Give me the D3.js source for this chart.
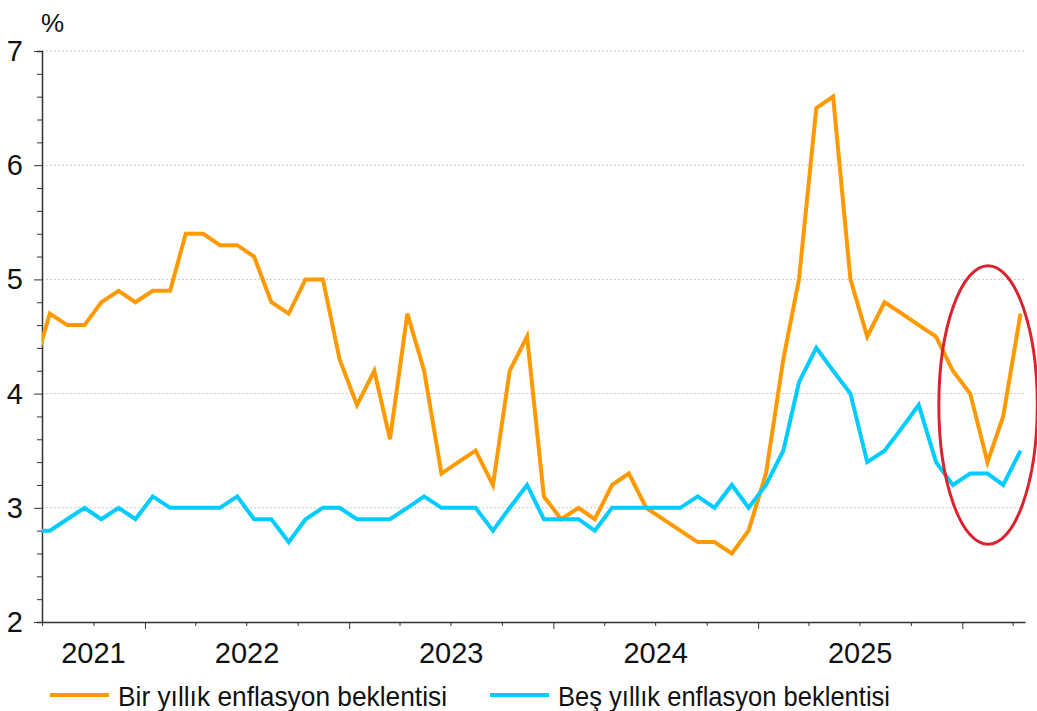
<!DOCTYPE html>
<html>
<head>
<meta charset="utf-8">
<script src="https://cdn.jsdelivr.net/npm/d3@7"></script>
<style>
  body { margin: 0; background: #fff; }
  svg text { font-family: "Liberation Sans", Arial, sans-serif; fill: #111; }
</style>
</head>
<body>
<svg id="chart" width="1037" height="711"></svg>
<script>
// monthly survey values, Jun 2021 .. Apr 2026
var startMonth = new Date(2021, 5, 15);
var oneYear = [
  4.2, 4.7, 4.6, 4.6, 4.8, 4.9, 4.8,
  4.9, 4.9, 5.4, 5.4, 5.3, 5.3, 5.2, 4.8, 4.7, 5.0, 5.0, 4.3,
  3.9, 4.2, 3.6, 4.7, 4.2, 3.3, 3.4, 3.5, 3.2, 4.2, 4.5, 3.1,
  2.9, 3.0, 2.9, 3.2, 3.3, 3.0, 2.9, 2.8, 2.7, 2.7, 2.6, 2.8,
  3.3, 4.3, 5.0, 6.5, 6.6, 5.0, 4.5, 4.8, 4.7, 4.6, 4.5, 4.2,
  4.0, 3.4, 3.8, 4.7
];
var fiveYear = [
  2.8, 2.8, 2.9, 3.0, 2.9, 3.0, 2.9,
  3.1, 3.0, 3.0, 3.0, 3.0, 3.1, 2.9, 2.9, 2.7, 2.9, 3.0, 3.0,
  2.9, 2.9, 2.9, 3.0, 3.1, 3.0, 3.0, 3.0, 2.8, 3.0, 3.2, 2.9,
  2.9, 2.9, 2.8, 3.0, 3.0, 3.0, 3.0, 3.0, 3.1, 3.0, 3.2, 3.0,
  3.2, 3.5, 4.1, 4.4, 4.2, 4.0, 3.4, 3.5, 3.7, 3.9, 3.4, 3.2,
  3.3, 3.3, 3.2, 3.5
];
var yearLabels = ["2021", "2022", "2023", "2024", "2025"];
var yTicks = [2, 3, 4, 5, 6, 7];
var seriesNames = ["Bir yıllık enflasyon beklentisi", "Beş yıllık enflasyon beklentisi"];
var seriesColors = ["#ff9900", "#00ccff"];

var svg = d3.select("#chart");

var x = d3.scaleTime()
    .domain([new Date(2021, 6, 1), new Date(2026, 3, 23)])
    .range([42, 1025]);

var y = d3.scaleLinear()
    .domain([2, 7])
    .range([622, 51]);

var months = oneYear.map((v, i) => d3.timeMonth.offset(startMonth, i));

// grid
svg.append("g").selectAll("line")
    .data(yTicks.filter(d => d > 2))
    .enter().append("line")
    .attr("x1", x.range()[0]).attr("x2", x.range()[1])
    .attr("y1", d => y(d)).attr("y2", d => y(d))
    .attr("stroke", "#c8c8c8")
    .attr("stroke-dasharray", "2,2");

// y axis
var yAxis = svg.append("g")
    .attr("transform", "translate(42,0)")
    .call(d3.axisLeft(y).tickValues(d3.range(2, 7.01, 0.2)).tickSize(5).tickFormat(""));
yAxis.select(".domain").attr("stroke", "#333").attr("stroke-width", 1.5);
yAxis.selectAll(".tick line").attr("stroke", "#333")
    .attr("x2", d => Math.abs(d - Math.round(d)) < 1e-6 ? -8 : -5);

svg.append("g").selectAll("text")
    .data(yTicks)
    .enter().append("text")
    .attr("x", 23)
    .attr("y", d => y(d) + 10)
    .attr("text-anchor", "end")
    .style("font-size", "29px")
    .text(d => d);

svg.append("text")
    .attr("x", 41).attr("y", 32)
    .style("font-size", "26px")
    .text("%");

// x axis
var xAxis = svg.append("g")
    .attr("transform", "translate(0," + y(2) + ")")
    .call(d3.axisBottom(x).ticks(d3.timeMonth.every(3)).tickSize(4).tickFormat("").tickSizeOuter(0));
xAxis.select(".domain").attr("stroke", "#333").attr("stroke-width", 1.5);
xAxis.selectAll(".tick line").attr("stroke", "#333")
    .attr("y2", d => d.getMonth() === 0 ? 7 : 4);

svg.append("g").selectAll("text")
    .data(yearLabels)
    .enter().append("text")
    .attr("x", function(d) {
        var a = Math.max(x(new Date(+d, 0, 1)), x.range()[0]);
        var b = Math.min(x(new Date(+d + 1, 0, 1)), x.range()[1]);
        return (a + b) / 2;
    })
    .attr("y", 663)
    .attr("text-anchor", "middle")
    .style("font-size", "29px")
    .text(d => d);

// lines
svg.append("clipPath").attr("id", "plotclip")
  .append("rect")
    .attr("x", x.range()[0]).attr("y", 0)
    .attr("width", x.range()[1] - x.range()[0]).attr("height", y(2));

var line = d3.line()
    .x(d => x(d[0]))
    .y(d => y(d[1]));

[oneYear, fiveYear].forEach(function(vals, k) {
    svg.append("path")
        .datum(vals.map((v, i) => [months[i], v]))
        .attr("clip-path", "url(#plotclip)")
        .attr("fill", "none")
        .attr("stroke", seriesColors[k])
        .attr("stroke-width", 4)
        .attr("stroke-linejoin", "miter")
        .attr("d", line);
});

// highlight ellipse
var ex0 = x(new Date(2025, 10, 20)), ex1 = x(new Date(2026, 4, 15));
svg.append("ellipse")
    .attr("cx", (ex0 + ex1) / 2)
    .attr("cy", (y(2.68) + y(5.12)) / 2)
    .attr("rx", (ex1 - ex0) / 2)
    .attr("ry", (y(2.68) - y(5.12)) / 2)
    .attr("fill", "none")
    .attr("stroke", "#d9232e")
    .attr("stroke-width", 3);

// legend
var legendX = [50, 490];
seriesNames.forEach(function(name, k) {
    var g = svg.append("g").attr("transform", "translate(" + legendX[k] + ",695)");
    g.append("line")
        .attr("x1", 0).attr("x2", 59)
        .attr("stroke", seriesColors[k])
        .attr("stroke-width", 4);
    g.append("text")
        .attr("x", 68).attr("y", 11)
        .style("font-size", "28px")
        .attr("textLength", k === 0 ? 329 : 332)
        .attr("lengthAdjust", "spacingAndGlyphs")
        .text(name);
});
</script>
</body>
</html>
